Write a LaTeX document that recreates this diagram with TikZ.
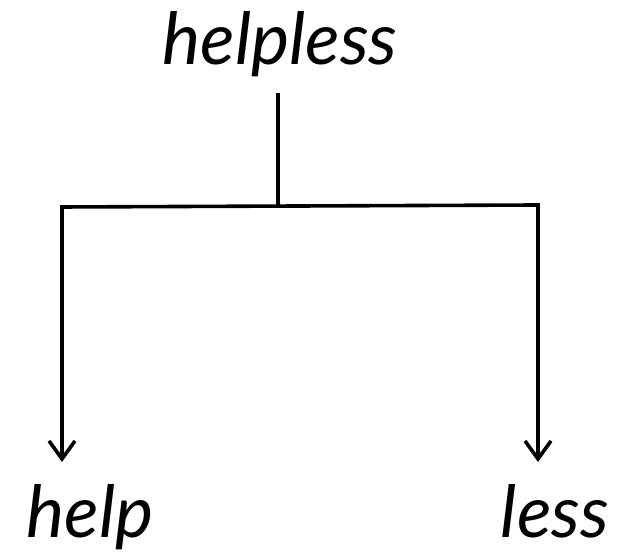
\documentclass[tikz,border=0pt]{standalone}
\usepackage{fontspec}
\setsansfont{Lato}
\usetikzlibrary{arrows.meta}
\begin{document}
\begin{tikzpicture}[x=1pt,y=1pt,
  word/.style={font=\sffamily\itshape\fontsize{72}{72}\selectfont, anchor=base, inner sep=0pt},
  conn/.style={line width=3.6pt, line cap=rect},
  arr/.style={line width=3.6pt, -{Straight Barb[length=18pt,width=26pt,line width=3.6pt]}}]
\useasboundingbox (0,0) rectangle (621,556);
\node[word] (helpless) at (280,491) {helpless};
\node[word] (help) at (90,18) {help};
\node[word] (less) at (555,18) {less};
\coordinate (top) at (278,461);
\coordinate (j) at (278,350);
\coordinate (lc) at (62,349);
\coordinate (rc) at (538,351);
\coordinate (lend) at (62,94);
\coordinate (rend) at (538,94);
\draw[conn] (top) -- (j);
\draw[conn] (lc) -- (rc);
\draw[arr] (lc) -- (lend);
\draw[arr] (rc) -- (rend);
\end{tikzpicture}
\end{document}
